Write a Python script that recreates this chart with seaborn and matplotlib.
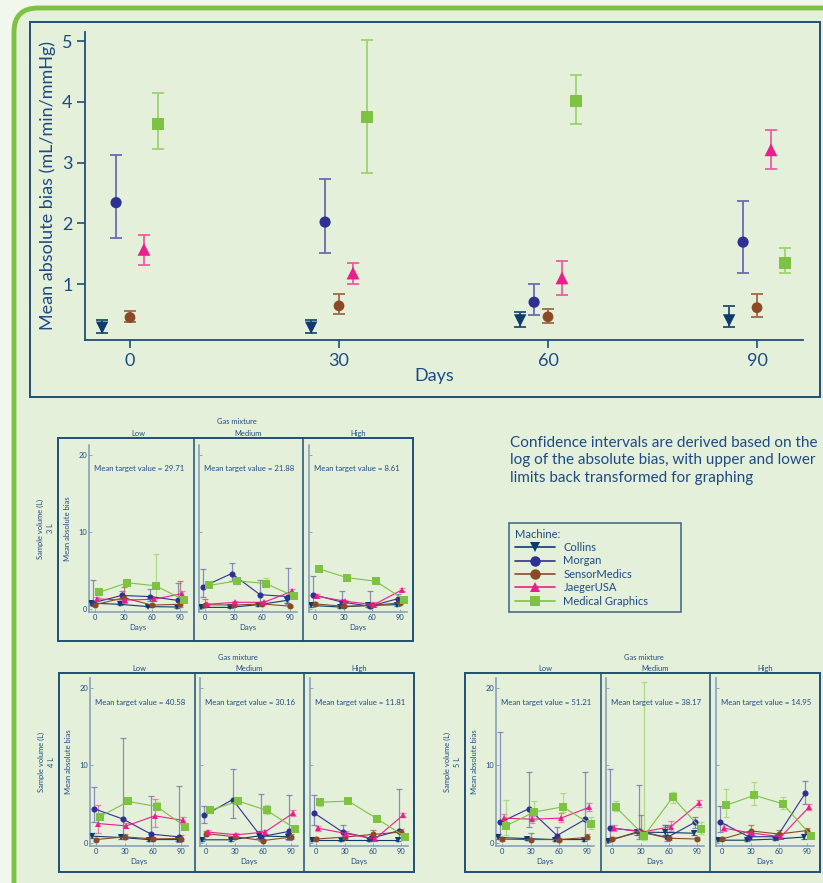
import numpy as np
import pandas as pd
import matplotlib
matplotlib.use("Agg")
import matplotlib.pyplot as plt
import seaborn as sns
from matplotlib.patches import FancyBboxPatch, Rectangle
from matplotlib.lines import Line2D

# ---- data ----
machines = ["Collins", "Morgan", "SensorMedics", "JaegerUSA", "Medical Graphics"]
days = [0, 30, 60, 90]
gases = ["Low", "Medium", "High"]

# main chart, rows = machines, cols = days
main_mean = [[0.28, 0.28, 0.40, 0.40],
             [2.34, 2.02, 0.70, 1.69],
             [0.45, 0.64, 0.46, 0.61],
             [1.57, 1.18, 1.10, 3.21],
             [3.64, 3.75, 4.01, 1.35]]
main_lo = [[0.20, 0.20, 0.30, 0.30],
           [1.76, 1.51, 0.49, 1.18],
           [0.37, 0.51, 0.36, 0.45],
           [1.32, 1.00, 0.82, 2.90],
           [3.23, 2.83, 3.63, 1.18]]
main_hi = [[0.41, 0.41, 0.54, 0.63],
           [3.12, 2.73, 1.00, 2.37],
           [0.56, 0.84, 0.59, 0.84],
           [1.81, 1.35, 1.38, 3.54],
           [4.14, 5.02, 4.44, 1.60]]

# small multiples: [gas][machine][day]
mean_3l = [[[0.75, 0.6, 0.3, 0.25], [0.8, 1.75, 1.6, 1.1], [0.55, 1.45, 0.5, 0.6],
            [1.3, 1.15, 1.25, 2.0], [2.15, 3.4, 3.0, 1.15]],
           [[0.2, 0.2, 0.55, 1.1], [2.9, 4.6, 1.85, 1.6], [0.55, 0.5, 0.65, 0.35],
            [0.6, 0.86, 0.86, 2.3], [3.05, 3.65, 3.3, 1.65]],
           [[0.45, 0.25, 0.45, 0.55], [1.85, 0.9, 0.35, 1.35], [0.65, 0.35, 0.45, 0.8],
            [1.65, 1.0, 0.55, 2.5], [5.2, 4.05, 3.6, 1.2]]]
lo_3l = [[[0.55, 0.45, 0.2, 0.15], [0.4, 1.3, 1.0, 0.5], [0.4, 0.8, 0.35, 0.2],
          [1.05, 0.95, 1.05, 1.7], [1.9, 3.0, 1.4, 0.9]],
         [[0.1, 0.1, 0.35, 0.8], [1.6, 3.6, 0.9, 0.6], [0.3, 0.35, 0.45, 0.25],
          [0.45, 0.7, 0.7, 2.0], [2.8, 3.3, 2.8, 1.4]],
         [[0.3, 0.15, 0.3, 0.4], [0.8, 0.4, 0.1, 0.9], [0.5, 0.25, 0.35, 0.6],
          [1.4, 0.85, 0.35, 2.3], [4.9, 3.8, 3.4, 0.95]]]
hi_3l = [[[1.0, 0.8, 0.5, 0.4], [3.8, 2.3, 2.6, 3.4], [0.8, 2.9, 0.7, 3.6],
          [1.6, 1.4, 1.5, 2.3], [2.4, 3.9, 7.1, 1.4]],
         [[0.4, 0.35, 0.8, 1.4], [5.2, 6.0, 3.7, 5.3], [1.3, 0.7, 0.9, 0.5],
          [0.8, 1.0, 1.0, 2.6], [3.3, 4.0, 4.0, 1.9]],
         [[0.6, 0.4, 0.6, 0.7], [4.3, 2.3, 2.3, 2.0], [0.85, 0.5, 0.6, 1.0],
          [1.9, 1.2, 0.9, 2.7], [5.5, 4.3, 3.8, 1.5]]]

mean_4l = [[[0.87, 0.7, 0.43, 0.43], [4.4, 3.1, 1.13, 0.78], [0.43, 0.78, 0.52, 0.56],
            [2.5, 2.2, 3.5, 2.9], [3.4, 5.35, 4.7, 2.1]],
           [[0.4, 0.4, 0.9, 0.8], [3.55, 5.6, 0.8, 1.5], [1.2, 0.8, 0.3, 0.75],
            [1.4, 1.05, 1.4, 3.85], [4.2, 5.4, 4.2, 1.85]],
           [[0.4, 0.4, 0.4, 0.4], [3.85, 1.4, 0.6, 1.6], [0.5, 0.75, 1.1, 1.4],
            [1.9, 1.2, 0.5, 3.6], [5.25, 5.4, 3.15, 0.8]]]
lo_4l = [[[0.6, 0.45, 0.3, 0.3], [2.7, 0.7, 0.2, 0.1], [0.3, 0.5, 0.35, 0.3],
          [1.3, 1.9, 2.1, 2.5], [3.1, 5.1, 4.2, 1.8]],
         [[0.25, 0.25, 0.6, 0.5], [2.55, 3.2, 0.2, 0.4], [0.9, 0.6, 0.2, 0.5],
          [1.0, 0.85, 1.1, 3.5], [3.9, 5.0, 3.7, 1.6]],
         [[0.25, 0.25, 0.25, 0.25], [2.3, 0.8, 0.3, 0.6], [0.35, 0.55, 0.75, 1.1],
          [1.6, 0.95, 0.35, 3.3], [4.8, 5.2, 2.8, 0.6]]]
hi_4l = [[[1.3, 1.0, 0.6, 0.6], [7.2, 13.5, 6.1, 7.4], [0.6, 1.1, 0.8, 1.0],
          [4.9, 2.6, 5.7, 3.3], [3.7, 5.6, 5.3, 2.4]],
         [[0.6, 0.6, 1.5, 1.3], [4.8, 9.5, 6.3, 6.2], [1.6, 1.1, 0.5, 1.1],
          [1.7, 1.3, 1.7, 4.2], [4.5, 5.9, 4.85, 2.1]],
         [[0.6, 0.6, 0.6, 0.6], [6.2, 2.3, 1.2, 6.9], [0.7, 1.0, 1.7, 1.8],
          [2.2, 1.5, 0.7, 3.9], [5.7, 5.6, 3.6, 1.0]]]

mean_5l = [[[0.7, 0.56, 0.43, 0.43], [2.65, 4.4, 0.95, 3.06], [0.48, 0.43, 0.43, 0.7],
            [3.2, 3.06, 3.2, 4.6], [2.2, 4.0, 4.65, 2.4]],
           [[0.25, 1.4, 1.35, 1.25], [1.9, 1.55, 0.7, 2.7], [0.5, 1.4, 0.6, 0.5],
            [1.9, 1.4, 2.1, 5.15], [4.6, 0.95, 5.9, 1.8]],
           [[0.35, 0.35, 0.5, 0.75], [2.7, 0.8, 0.8, 6.45], [0.5, 1.55, 1.15, 1.6],
            [1.9, 1.25, 0.8, 4.65], [4.85, 6.15, 5.05, 0.95]]]
lo_5l = [[[0.45, 0.35, 0.3, 0.3], [0.5, 2.1, 0.3, 0.8], [0.3, 0.2, 0.3, 0.45],
          [2.8, 2.6, 2.7, 4.1], [1.0, 3.0, 4.0, 1.8]],
         [[0.15, 1.0, 1.0, 1.0], [0.3, 0.5, 0.3, 1.9], [0.35, 0.7, 0.4, 0.35],
          [1.6, 1.2, 1.6, 4.7], [4.1, 0.4, 5.15, 1.2]],
         [[0.2, 0.2, 0.35, 0.5], [1.4, 0.5, 0.5, 5.0], [0.35, 1.1, 0.8, 1.3],
          [1.5, 1.0, 0.6, 4.3], [3.3, 4.9, 4.4, 0.7]]]
hi_5l = [[[1.1, 0.8, 0.6, 0.6], [14.3, 9.2, 2.1, 9.1], [0.7, 1.3, 0.6, 1.1],
          [3.7, 3.5, 3.8, 5.2], [5.6, 5.4, 6.4, 3.4]],
         [[0.4, 1.6, 2.25, 1.5], [9.6, 7.45, 2.25, 3.4], [0.7, 3.55, 0.8, 0.7],
          [2.25, 1.6, 2.8, 5.6], [5.4, 20.8, 6.6, 2.7]],
         [[0.5, 0.5, 0.7, 1.2], [4.8, 1.3, 1.2, 7.95], [0.7, 2.25, 1.7, 1.9],
          [2.5, 1.5, 1.0, 5.05], [6.9, 7.85, 5.9, 1.2]]]

target_3l = [29.71, 21.88, 8.61]
target_4l = [40.58, 30.16, 11.81]
target_5l = [51.21, 38.17, 14.95]

# ---- styles ----
colors = {"Collins": "#0d3b6e", "Morgan": "#2f3192", "SensorMedics": "#8a4a26",
          "JaegerUSA": "#ec1e8c", "Medical Graphics": "#7dc242"}
err_colors = {"Collins": "#1f4e79", "Morgan": "#6b6bb0", "SensorMedics": "#a0674a",
              "JaegerUSA": "#ef5aa5", "Medical Graphics": "#9fd36f"}
markers = {"Collins": "v", "Morgan": "o", "SensorMedics": "o",
           "JaegerUSA": "^", "Medical Graphics": "s"}
sizes = {"Collins": 80, "Morgan": 65, "SensorMedics": 60,
         "JaegerUSA": 85, "Medical Graphics": 75}
small_ms = {"Collins": 4.6, "Morgan": 4.4, "SensorMedics": 4.3,
            "JaegerUSA": 4.8, "Medical Graphics": 5.4}
offset = {"Collins": -4, "Morgan": -2, "SensorMedics": 0,
          "JaegerUSA": 2, "Medical Graphics": 4}

TXT = "#1d4a85"
NAVY = "#1f4e79"
BG = "#e5f0da"
GREEN = "#7dc242"

W, H = 823, 883

sns.set_theme(style="white")
plt.rcParams['font.family'] = ['Lato', 'DejaVu Sans']


def long_df(mean, lo, hi):
    rows = []
    for m, name in enumerate(machines):
        for d, day in enumerate(days):
            rows.append((name, day, mean[m][d], lo[m][d], hi[m][d]))
    df = pd.DataFrame(rows, columns=["Machine", "Day", "bias", "lo", "hi"])
    df["x"] = df["Day"] + df["Machine"].map(offset)
    return df


fig = plt.figure(figsize=(W / 100, H / 100), dpi=100, facecolor="#f1f7ec")

# pixel canvas for frames and free text
canvas = fig.add_axes([0, 0, 1, 1])
canvas.set_xlim(0, W)
canvas.set_ylim(H, 0)
canvas.axis("off")
canvas.add_patch(FancyBboxPatch((14, 8), 860, 920, boxstyle="round,pad=0,rounding_size=24",
                                fc=BG, ec=GREEN, lw=3.5))
canvas.add_patch(Rectangle((30, 22), 790, 375, fill=False, ec=NAVY, lw=1.4))


def px_axes(x0, y0, x1, y1):
    a = fig.add_axes([x0 / W, 1 - y1 / H, (x1 - x0) / W, (y1 - y0) / H])
    a.set_facecolor("none")
    return a


# ---- main chart ----
dfm = long_df(main_mean, main_lo, main_hi)
ax = px_axes(85, 32, 803, 340)
for name in machines:
    sub = dfm[dfm.Machine == name]
    ax.errorbar(sub.x, sub.bias, yerr=[sub.bias - sub.lo, sub.hi - sub.bias], fmt="none",
                ecolor=err_colors[name], elinewidth=1.3, capsize=4.5, capthick=1.3, zorder=2)
    sns.scatterplot(data=sub, x="x", y="bias", color=colors[name], marker=markers[name],
                    s=sizes[name], edgecolor="none", ax=ax, zorder=3, legend=False)
ax.set_xlim(-6.46, 96.6)
ax.set_ylim(0.078, 5.15)
ax.set_xticks(days)
ax.set_yticks([1, 2, 3, 4, 5])
for s in ["top", "right"]:
    ax.spines[s].set_visible(False)
for s in ["left", "bottom"]:
    ax.spines[s].set_color(NAVY)
    ax.spines[s].set_linewidth(1.3)
ax.tick_params(colors=NAVY, labelcolor=TXT, labelsize=13, length=6, width=1.2,
               direction="out", pad=3, left=True, bottom=True)
ax.set_xlabel("Days", fontsize=13, color=TXT, labelpad=1)
ax.xaxis.set_label_coords(0.487, -0.09)
ax.set_ylabel("Mean absolute bias (mL/min/mmHg)", fontsize=13, color=TXT, labelpad=4)

# ---- small multiples ----
def panel_group(L, box_top, box_bot, ax_top, ax_bot, mean, lo, hi, targets, vol):
    canvas.add_patch(Rectangle((L, box_top), 355, box_bot - box_top, fill=False, ec=NAVY, lw=1.4))
    for k in (136, 245):
        canvas.plot([L + k, L + k], [box_top, box_bot], color=NAVY, lw=1.1)
    canvas.text(L + 179, box_top - 16, "Gas mixture", ha="center", va="center",
                fontsize=5.4, color=TXT)
    canvas.text(L - 13, (ax_top + ax_bot) / 2, "Sample volume (L)\n" + vol, rotation=90,
                ha="center", va="center", fontsize=5.4, color=TXT, multialignment="center",
                linespacing=1.5)
    for g, gas in enumerate(gases):
        x0 = L + 31 + 110 * g
        a = px_axes(x0, ax_top, x0 + 98, ax_bot)
        df = long_df(mean[g], lo[g], hi[g])
        for name in machines:
            sub = df[df.Machine == name]
            a.errorbar(sub.x, sub.bias, yerr=[sub.bias - sub.lo, sub.hi - sub.bias], fmt="none",
                       ecolor=err_colors[name], elinewidth=0.9, capsize=2, capthick=0.9,
                       alpha=0.75, zorder=2)
            sns.lineplot(data=sub, x="x", y="bias", color=colors[name], marker=markers[name],
                         markersize=small_ms[name], markeredgewidth=0, lw=0.8,
                         errorbar=None, ax=a, zorder=3, legend=False)
        a.set_xlim(-6.5, 97)
        a.set_ylim(-0.4, 21.3)
        a.set_xticks(days)
        a.set_yticks([0, 10, 20])
        for s in ["top", "right"]:
            a.spines[s].set_visible(False)
        for s in ["left", "bottom"]:
            a.spines[s].set_color("#8199b6")
            a.spines[s].set_linewidth(1.1)
        a.tick_params(colors="#8199b6", labelcolor=TXT, labelsize=5.4, length=2, width=0.6,
                      pad=1.5, direction="in", left=True, bottom=True)
        if g > 0:
            a.set_yticklabels([])
            a.set_ylabel("")
        else:
            a.set_ylabel("Mean absolute bias", fontsize=5.5, color=TXT, labelpad=5)
        a.set_xlabel("Days", fontsize=5.6, color=TXT, labelpad=2)
        a.set_title(gas, fontsize=5.4, color=TXT, pad=(ax_top - box_top + 2) * 0.72)
        a.text(0.05, 18.2, f"Mean target value = {targets[g]:.2f}",
               transform=a.get_yaxis_transform(), fontsize=5.6, color=TXT, va="center")


panel_group(58, 438, 641, 445, 612, mean_3l, lo_3l, hi_3l, target_3l, "3 L")
panel_group(59, 673, 872, 678, 846, mean_4l, lo_4l, hi_4l, target_4l, "4 L")
panel_group(465, 673, 872, 678, 846, mean_5l, lo_5l, hi_5l, target_5l, "5 L")

# ---- note and legend ----
canvas.text(510, 436, "Confidence intervals are derived based on the\n"
                      "log of the absolute bias, with upper and lower\n"
                      "limits back transformed for graphing",
            ha="left", va="top", fontsize=11, color=TXT, linespacing=1.3)

handles = [Line2D([0], [0], color=colors[n], marker=markers[n], markersize=7.5,
                  markeredgewidth=0, lw=1.2) for n in machines]
leg = fig.legend(handles, machines, title="Machine:", loc="upper left",
                 bbox_to_anchor=(509 / W, 1 - 613 / H, 172 / W, 90 / H), mode="expand",
                 frameon=True, fancybox=False,
                 edgecolor=NAVY, facecolor=BG, fontsize=8, title_fontsize=8,
                 alignment="left", handlelength=3.6, labelspacing=0.22, borderpad=0.5,
                 handletextpad=0.8, borderaxespad=0)
leg.get_frame().set_linewidth(1.2)
leg.get_title().set_color(TXT)
for t in leg.get_texts():
    t.set_color(TXT)

fig.savefig("out.png", dpi=100, facecolor=fig.get_facecolor())
